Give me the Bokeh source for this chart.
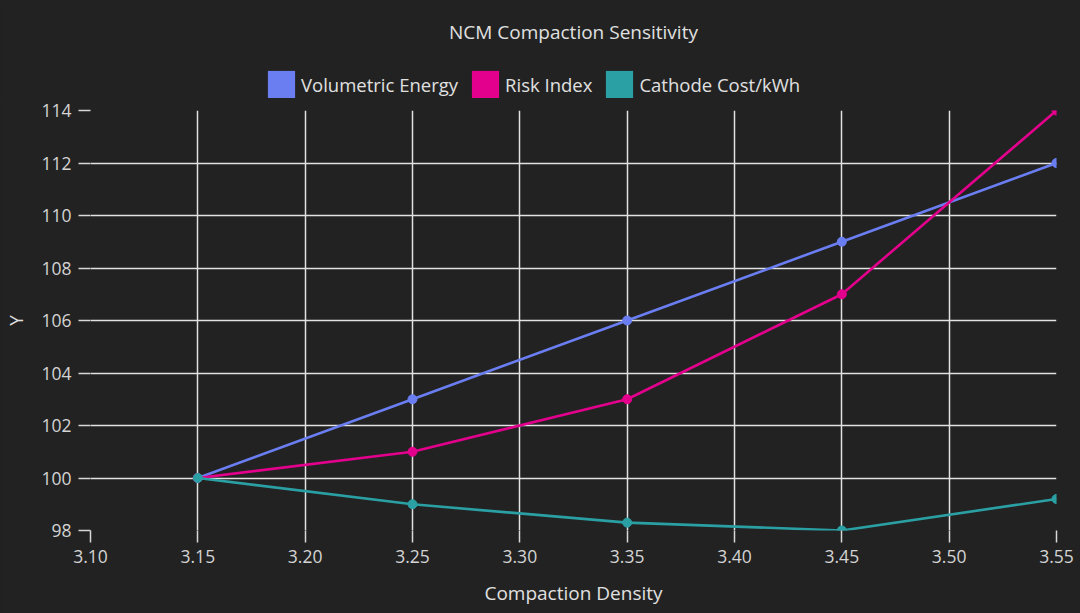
from bokeh.plotting import figure
from bokeh.layouts import column
from bokeh.models import ColumnDataSource, Legend, LegendItem, FixedTicker, Range1d
from bokeh.embed import file_html
from bokeh.resources import INLINE
from bokeh.core.templates import get_env

density = [3.15, 3.25, 3.35, 3.45, 3.55]
volumetric_energy = [100, 103, 106, 109, 112]
risk_index = [100, 101, 103, 107, 114]
cathode_cost = [100, 99, 98.3, 98.0, 99.2]

x_ticks = [3.10, 3.15, 3.20, 3.25, 3.30, 3.35, 3.40, 3.45, 3.50, 3.55]
y_ticks = [98, 100, 102, 104, 106, 108, 110, 112, 114]

series = [
    ("Volumetric Energy", volumetric_energy, "#6a7ef2"),
    ("Risk Index", risk_index, "#e3008c"),
    ("Cathode Cost/kWh", cathode_cost, "#2aa0a4"),
]

FONT = "Open Sans"
BG = "#222222"

# header: title + legend (a legend inside the main frame would get clipped)
head = figure(width=1080, height=98, output_backend="svg", toolbar_location=None,
              x_axis_type=None, y_axis_type=None,
              x_range=Range1d(3.10, 3.55), y_range=Range1d(98, 114),
              title="NCM Compaction Sensitivity",
              background_fill_color=BG, border_fill_color=BG,
              outline_line_color=None, min_border=0, min_border_top=44)
head.grid.visible = False
head.title.align = "center"
head.title.text_color = "#e0e0e0"
head.title.text_font = FONT
head.title.text_font_size = "19px"
head.title.text_font_style = "normal"
head.title.standoff = 0

p = figure(width=1080, height=515, output_backend="svg", toolbar_location=None,
           x_range=Range1d(3.10, 3.55), y_range=Range1d(98, 114),
           x_axis_label="Compaction Density", y_axis_label="Y",
           background_fill_color=BG, border_fill_color=BG,
           outline_line_color=None, min_border_left=90, min_border_right=24,
           min_border_bottom=83, min_border_top=12)

items = []
for name, vals, color in series:
    src = ColumnDataSource(dict(x=density, y=vals))
    p.line("x", "y", source=src, line_color=color, line_width=2.6)
    p.scatter("x", "y", source=src, size=9, color=color)
    # zero sized rect in the header: only used for the legend swatch
    swatch = head.rect(x=density[:1], y=vals[:1], width=0, height=0,
                       fill_color=color, line_color=None, border_radius=6)
    items.append(LegendItem(label=name, renderers=[swatch]))

# area swatches are drawn at 80% of the glyph box
legend = Legend(items=items, orientation="horizontal", location=(174, -3),
                background_fill_alpha=0, border_line_color=None,
                glyph_width=34, glyph_height=34, spacing=10, label_standoff=3,
                label_text_color="#e0e0e0", label_text_font=FONT,
                label_text_font_size="18.5px", padding=0, margin=0)
head.add_layout(legend)

p.xaxis.ticker = FixedTicker(ticks=x_ticks)
p.yaxis.ticker = FixedTicker(ticks=y_ticks)
p.xaxis.major_label_overrides = {t: f"{t:.2f}" for t in x_ticks}

for ax in (p.xaxis, p.yaxis):
    ax.axis_line_color = None
    ax.major_tick_line_color = "#d8d8d8"
    ax.major_tick_line_width = 1.5
    ax.major_tick_out = 12
    ax.major_tick_in = 0
    ax.minor_tick_line_color = None
    ax.major_label_text_color = "#d4d4d4"
    ax.major_label_text_font = FONT
    ax.major_label_text_font_size = "17.5px"
    ax.axis_label_text_color = "#e0e0e0"
    ax.axis_label_text_font = FONT
    ax.axis_label_text_font_size = "19px"
    ax.axis_label_text_font_style = "normal"

p.xaxis.major_label_standoff = 7
p.xaxis.axis_label_standoff = 14
p.yaxis.major_label_standoff = 7
p.yaxis.axis_label_standoff = 9

p.grid.grid_line_color = "#e2e2e2"
p.grid.grid_line_width = 1.5

layout = column(head, p, spacing=0)

template = get_env().from_string(
    '{% extends "file.html" %}{% block preamble %}'
    '<style>body{background:#222222;}</style>{% endblock %}'
)

open("out.html", "w").write(file_html(layout, INLINE, template=template))
